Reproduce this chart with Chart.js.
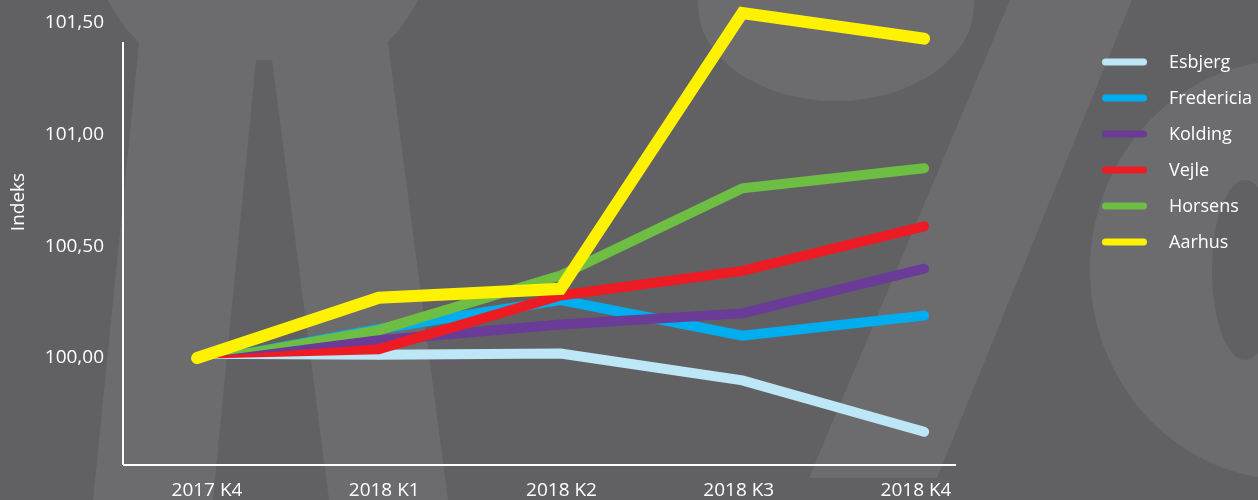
<!DOCTYPE html>
<html><head><meta charset="utf-8">
<script src="https://cdn.jsdelivr.net/npm/chart.js@4.4.1/dist/chart.umd.min.js"></script>
<style>html,body{margin:0;padding:0;background:#616163;overflow:hidden}canvas{display:block}</style>
</head><body><canvas id="c" width="1258" height="500"></canvas>
<script>
// ---- data ----
const categories = ['2017 K4', '2018 K1', '2018 K2', '2018 K3', '2018 K4'];
const seriesNames = ['Esbjerg', 'Fredericia', 'Kolding', 'Vejle', 'Horsens', 'Aarhus'];
const esbjerg    = [100, 100.015, 100.02, 99.90, 99.67];
const fredericia = [100, 100.13, 100.26, 100.10, 100.19];
const kolding    = [100, 100.08, 100.15, 100.20, 100.40];
const vejle      = [100, 100.04, 100.28, 100.39, 100.59];
const horsens    = [100, 100.125, 100.37, 100.76, 100.85];
const aarhus     = [100, 100.27, 100.31, 101.545, 101.43];
const seriesValues = [esbjerg, fredericia, kolding, vejle, horsens, aarhus];
const seriesColors = ['#bde6f6', '#00aeef', '#6a3b97', '#ed1c24', '#6fbe44', '#fff200'];
const yTickValues = [100, 100.5, 101, 101.5];
const yTickLabels = ['100,00', '100,50', '101,00', '101,50'];
const yAxisTitle = 'Indeks';
const yRange = [99.5213, 101.5];
const xRange = [-0.402, 4.17];
const xLabelRange = [-0.468, 4.22];

// ---- style ----
const FONT = "'Open Sans', 'Noto Sans', sans-serif";
const DARK = '#616163';
const LIGHT = '#6c6c6e';

const bgPlugin = {
  id: 'bg',
  beforeDraw(chart) {
    const ctx = chart.ctx;
    ctx.save();
    ctx.fillStyle = DARK;
    ctx.fillRect(0, 0, chart.width, chart.height);
    ctx.fillStyle = LIGHT;
    ctx.beginPath(); ctx.arc(263, -79, 174, 0, Math.PI * 2); ctx.fill();
    ctx.beginPath();
    ctx.moveTo(139, 43); ctx.lineTo(388, 43); ctx.lineTo(448, 500); ctx.lineTo(93, 500); ctx.closePath(); ctx.fill();
    ctx.fillStyle = DARK;
    ctx.beginPath();
    ctx.moveTo(256, 60); ctx.lineTo(272, 60); ctx.lineTo(329, 500); ctx.lineTo(213, 500); ctx.closePath(); ctx.fill();
    ctx.fillStyle = LIGHT;
    ctx.beginPath(); ctx.ellipse(836, 5, 138, 96, 0, 0, Math.PI * 2); ctx.fill();
    ctx.beginPath();
    ctx.moveTo(1010, 0); ctx.lineTo(1132, 0); ctx.lineTo(937, 478); ctx.lineTo(809, 478); ctx.closePath(); ctx.fill();
    ctx.beginPath(); ctx.ellipse(1290, 270, 200, 210, 0, 0, Math.PI * 2); ctx.fill();
    ctx.fillStyle = DARK;
    ctx.beginPath(); ctx.ellipse(1245, 270, 33, 90, 0, 0, Math.PI * 2); ctx.fill();
    ctx.restore();
  },
  beforeDatasetsDraw(chart) {
    const ctx = chart.ctx, a = chart.chartArea;
    ctx.save();
    ctx.strokeStyle = '#ffffff';
    ctx.lineWidth = 2;
    ctx.beginPath();
    ctx.moveTo(a.left - 1, a.top + 19);
    ctx.lineTo(a.left - 1, a.bottom);
    ctx.stroke();
    ctx.restore();
  },
  afterDatasetDraw(chart, args) {
    const ds = chart.data.datasets[args.index];
    if (!ds.tapered) return;
    const pts = args.meta.data;
    const p0 = pts[0], p1 = pts[1];
    const dx = p1.x - p0.x, dy = p1.y - p0.y;
    const len = Math.hypot(dx, dy) || 1;
    const nx = -dy / len, ny = dx / len;
    const w0 = 0.6, w1 = ds.borderWidth / 2;
    const ctx = chart.ctx;
    ctx.save();
    ctx.fillStyle = ds.borderColor;
    ctx.beginPath();
    ctx.moveTo(p0.x + nx * w0, p0.y + ny * w0);
    ctx.lineTo(p1.x + nx * w1, p1.y + ny * w1);
    ctx.lineTo(p1.x - nx * w1, p1.y - ny * w1);
    ctx.lineTo(p0.x - nx * w0, p0.y - ny * w0);
    ctx.closePath();
    ctx.fill();
    ctx.restore();
  },
  afterDraw(chart) {
    const ctx = chart.ctx;
    ctx.save();
    ctx.fillStyle = '#ffffff';
    ctx.font = '19px ' + FONT;
    ctx.save();
    ctx.translate(19, 202);
    ctx.rotate(-Math.PI / 2);
    ctx.textAlign = 'center';
    ctx.textBaseline = 'middle';
    ctx.fillText(yAxisTitle, 0, 0);
    ctx.restore();
    ctx.font = '18px ' + FONT;
    ctx.textAlign = 'left';
    ctx.textBaseline = 'middle';
    ctx.lineCap = 'round';
    ctx.lineWidth = 7;
    seriesNames.forEach((name, i) => {
      const y = 62 + i * 36;
      ctx.strokeStyle = seriesColors[i];
      ctx.beginPath();
      ctx.moveTo(1105.5, y);
      ctx.lineTo(1143.5, y);
      ctx.stroke();
      ctx.fillText(name, 1169, y + 1);
    });
    ctx.restore();
  }
};

const datasets = seriesValues.map((vals, i) => {
  const last = i === seriesValues.length - 1;
  return {
    label: seriesNames[i],
    data: vals.map((v, j) => ({ x: j, y: v })),
    xAxisID: 'x',
    borderColor: seriesColors[i],
    backgroundColor: seriesColors[i],
    borderWidth: last ? 12 : 10,
    borderCapStyle: 'round',
    borderJoinStyle: 'miter',
    pointRadius: 0,
    pointHoverRadius: 0,
    fill: false,
    tension: 0,
    clip: false,
    order: seriesValues.length - 1 - i,
    tapered: !last,
    segment: last ? {} : { borderColor: c => c.p0DataIndex === 0 ? 'rgba(0,0,0,0)' : undefined }
  };
});

new Chart(document.getElementById('c'), {
  type: 'line',
  data: { datasets },
  plugins: [bgPlugin],
  options: {
    responsive: false,
    animation: false,
    devicePixelRatio: 1,
    events: [],
    layout: { padding: { left: 0, top: 23, right: 303, bottom: 0 } },
    plugins: { legend: { display: false }, tooltip: { enabled: false } },
    scales: {
      x: {
        type: 'linear',
        display: false,
        min: xRange[0], max: xRange[1]
      },
      xLabels: {
        type: 'linear',
        position: 'bottom',
        min: xLabelRange[0], max: xLabelRange[1],
        grid: { display: false, drawTicks: false },
        border: { display: true, color: '#ffffff', width: 2 },
        ticks: {
          color: '#ffffff', font: { family: FONT, size: 19 }, padding: 14,
          autoSkip: false, maxRotation: 0,
          callback: (v, idx) => categories[idx]
        },
        afterBuildTicks: s => { s.ticks = categories.map((_, i) => ({ value: i })); },
        afterFit: s => { s.height = 35; s.paddingLeft = 0; s.paddingRight = 0; }
      },
      y: {
        type: 'linear',
        min: yRange[0], max: yRange[1],
        grid: { display: false, drawTicks: false },
        border: { display: false },
        ticks: {
          color: '#ffffff', font: { family: FONT, size: 19 }, padding: 20,
          autoSkip: false,
          callback: (v, idx) => yTickLabels[idx]
        },
        afterBuildTicks: s => { s.ticks = yTickValues.map(v => ({ value: v })); },
        afterFit: s => { s.width = 124; s.paddingTop = 0; s.paddingBottom = 0; }
      }
    }
  }
});
</script>
</body></html>
